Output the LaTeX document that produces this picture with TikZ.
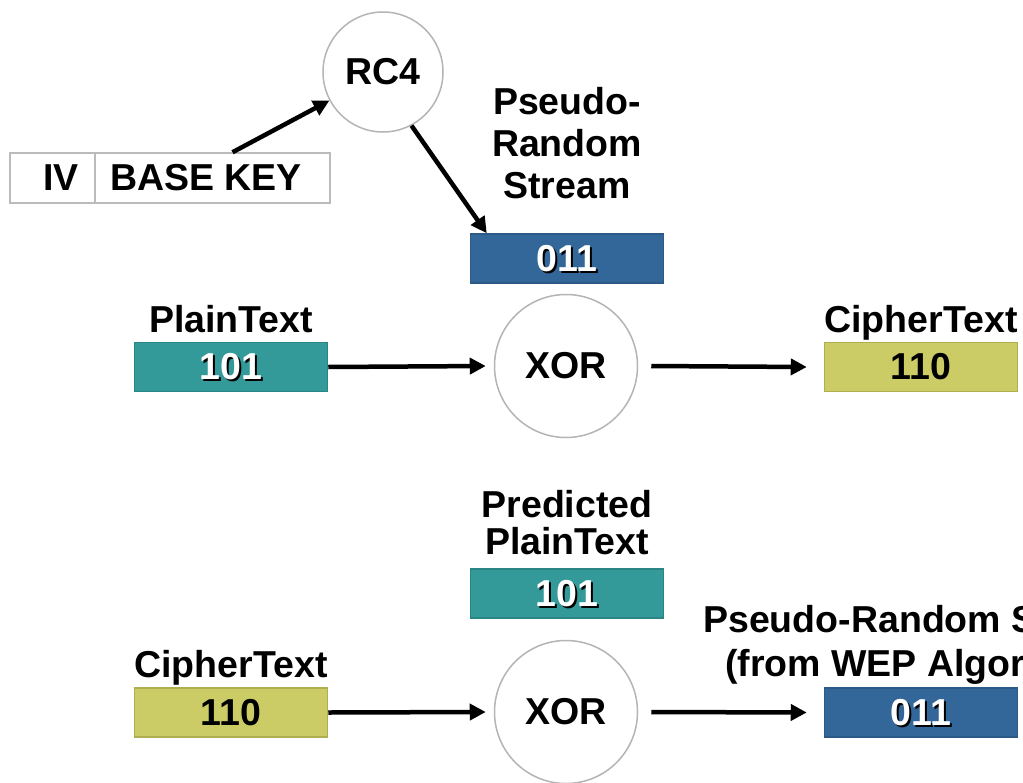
\documentclass[tikz,border=0pt]{standalone}
\usepackage{fontspec}
\setmainfont{Liberation Sans}
\usetikzlibrary{arrows.meta}

\definecolor{streamblue}{HTML}{336699}
\definecolor{streamblueedge}{HTML}{2B5A86}
\definecolor{plainteal}{HTML}{339999}
\definecolor{plaintealedge}{HTML}{2A8585}
\definecolor{cipherolive}{HTML}{CCCC66}
\definecolor{cipheroliveedge}{HTML}{AFAF52}
\definecolor{ringgray}{HTML}{B4B4B4}
\definecolor{keygray}{HTML}{BBBBBB}

% white digits with a dark drop shadow
\newcommand\shadowed[1]{\rlap{\smash{\kern2pt\raisebox{-2pt}{\color{black}#1}}}\textcolor{white}{#1}}

\begin{document}
\begin{tikzpicture}[x=1pt,y=-1pt,
  every node/.style={font=\fontsize{37.5}{42}\selectfont\bfseries, inner sep=0pt},
  op/.style={circle, draw=ringgray, line width=1.5pt},
  valbox/.style={rectangle, line width=1.5pt, minimum width=193pt, minimum height=49pt},
  streambox/.style={valbox, fill=streamblue, draw=streamblueedge},
  plainbox/.style={valbox, fill=plainteal, draw=plaintealedge},
  cipherbox/.style={valbox, fill=cipherolive, draw=cipheroliveedge},
  keycell/.style={rectangle, draw=keygray, line width=1.5pt, minimum height=50pt},
  caption/.style={anchor=base},
  arr/.style={line width=4.5pt, -{Triangle[length=16pt,width=16pt]}}
]
\useasboundingbox (0,0) rectangle (1023,782);
\clip (0,0) rectangle (1023,782);

% ---- key schedule ----
\node[keycell, minimum width=85pt] (iv) at (52.5,178) {\hspace*{17pt}IV};
\node[keycell, minimum width=235pt] (basekey) at (212.5,178) {BASE KEY\hspace*{13pt}};
\node[op, minimum size=120pt] (rc4) at (383,72) {RC4};

\node[align=center, anchor=north] (prslabel) at (567,87) {Pseudo-\\Random\\Stream};
\node[streambox] (prs) at (567,258.5) {\shadowed{011}};

\draw[arr] ([xshift=20pt]basekey.north) -- (rc4);
\draw[arr] (rc4.-62) -- ([xshift=17pt]prs.north west);

% ---- encryption ----
\node[caption] (ptlabel) at (231,332) {PlainText};
\node[plainbox] (pt) at (231,367) {\shadowed{101}};
\node[op, minimum size=143pt] (xor1) at (566,366) {XOR};
\node[caption] (ctlabel) at (921,332) {CipherText};
\node[cipherbox] (ct) at (921,367) {110};

\draw[arr] (pt.east) -- ([xshift=-8pt]xor1.west);
\draw[arr] ([xshift=13pt]xor1.east) -- ([xshift=-17pt]ct.west);

% ---- keystream recovery ----
\node[align=center, anchor=north, font=\fontsize{37.5}{37}\selectfont\bfseries] (pplabel) at (567,490) {Predicted\\PlainText};
\node[plainbox] (pp) at (567,593.5) {\shadowed{101}};

\node[caption] (ct2label) at (231,677) {CipherText};
\node[cipherbox] (ct2) at (231,712.5) {110};
\node[op, minimum size=143pt] (xor2) at (566,712) {XOR};
\node[align=center, anchor=north, font=\fontsize{37.5}{44}\selectfont\bfseries] (ks2label) at (921,605) {Pseudo-Random Stream\\(from WEP Algorithm)};
\node[streambox] (ks2) at (921,712.5) {\shadowed{011}};

\draw[arr] (ct2.east) -- ([xshift=-8pt]xor2.west);
\draw[arr] ([xshift=13pt]xor2.east) -- ([xshift=-17pt]ks2.west);
\end{tikzpicture}
\end{document}
